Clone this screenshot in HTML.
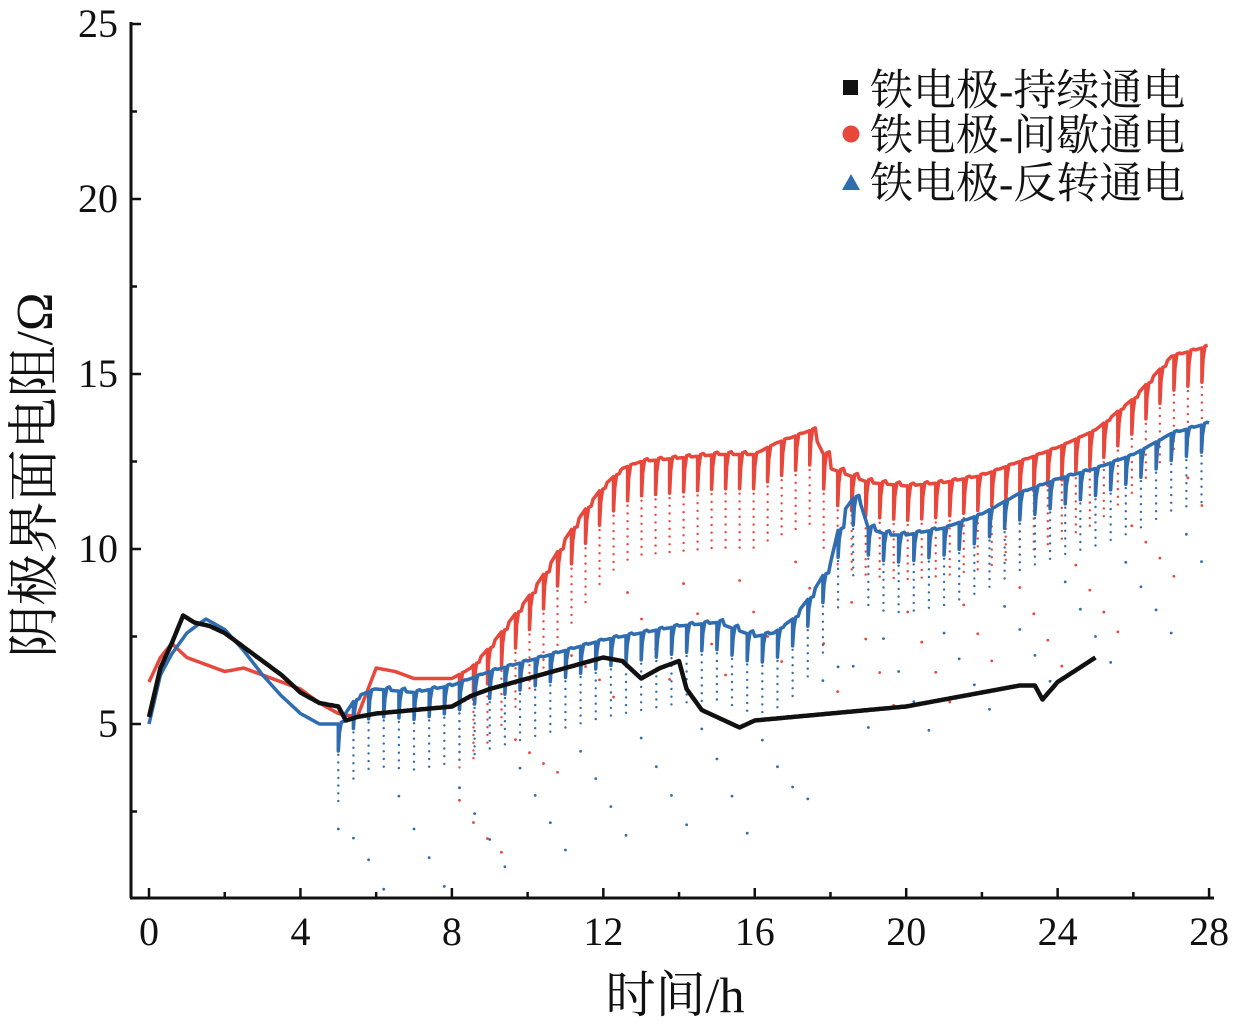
<!DOCTYPE html>
<html><head><meta charset="utf-8">
<style>
html,body{margin:0;padding:0;background:#fff;}
svg{display:block;}
text{font-family:"Liberation Serif","Noto Serif CJK SC",serif;fill:#111;}
</style></head>
<body>
<svg id="chart" width="1235" height="1028" viewBox="0 0 1235 1028" xmlns="http://www.w3.org/2000/svg">
<g id="axes"></g>
<g id="series"></g>
<g id="legend">
  <rect x="843" y="80" width="15" height="15" fill="#111"/>
  <text x="870" y="105" font-size="43">铁电极-持续通电</text>
  <circle cx="851" cy="134" r="8.5" fill="#e8473c"/>
  <text x="870" y="150" font-size="43">铁电极-间歇通电</text>
  <polygon points="842,190 851,174 860,190" fill="#2f6db0"/>
  <text x="870" y="198" font-size="43">铁电极-反转通电</text>
</g>
<text transform="translate(52,475) rotate(-90)" text-anchor="middle" font-size="52">阴极界面电阻/Ω</text>
<text x="675" y="1012" text-anchor="middle" font-size="50">时间/h</text>
</svg>
<script>
const xTicks = [0,4,8,12,16,20,24,28];
const yTicks = [5,10,15,20,25];
const blackT = [0,0.3,0.6,0.9,1.2,1.6,2,2.5,3,3.5,4,4.5,5,5.2,5.5,6,7,8,8.5,9,10,11,12,12.5,13,13.5,14,14.2,14.6,15,15.6,16,17,18,19,20,21,22,23,23.4,23.6,24,25];
const blackV = [5.2,6.6,7.3,8.1,7.9,7.8,7.6,7.2,6.8,6.4,5.9,5.6,5.5,5.1,5.2,5.3,5.4,5.5,5.8,6.0,6.3,6.6,6.9,6.8,6.3,6.6,6.8,6.0,5.4,5.2,4.9,5.1,5.2,5.3,5.4,5.5,5.7,5.9,6.1,6.1,5.7,6.2,6.9];
const redT = [0,0.3,0.6,1,1.5,2,2.5,3,4,4.5,5,5.5,6,6.5,7,8,8.5,9,9.5,10,10.5,11,11.5,12,12.5,13,14,15,16,16.5,17,17.5,18,18.5,19,20,21,22,23,24,25,26,27,28];
const redV = [6.2,6.9,7.3,6.9,6.7,6.5,6.6,6.4,6.0,5.6,5.3,5.2,6.6,6.5,6.3,6.3,6.6,7.2,7.9,8.6,9.4,10.3,11.1,11.8,12.3,12.5,12.6,12.7,12.7,13.0,13.2,13.4,12.3,12.1,11.9,11.8,11.9,12.1,12.5,12.9,13.4,14.3,15.5,15.8];
const blueT = [0,0.3,0.6,1,1.5,2,2.5,3,3.5,4,4.5,5,5.5,6,7,8,9,10,11,12,13,14,15,16,16.5,17,17.5,18,18.3,18.7,19,19.5,20,21,22,23,24,25,26,27,28];
const blueV = [5.0,6.4,7.0,7.6,8.0,7.7,7.1,6.4,5.8,5.3,5.0,5.0,5.8,6.0,5.9,6.1,6.5,6.8,7.1,7.4,7.6,7.8,7.9,7.5,7.6,8.0,8.7,9.6,11.0,11.6,10.6,10.4,10.4,10.6,11.0,11.6,12.0,12.3,12.7,13.3,13.6];
const redCycle = {start:8.2, period:0.37, drop:2.8};
const blueCycle = {start:5.0, period:0.4, drop:2.2};

const NS="http://www.w3.org/2000/svg";
const X0=149, XS=37.86, Y0=899, YS=35;
const sx=t=>X0+t*XS, sy=v=>Y0-v*YS;
const axes=document.getElementById('axes'), ser=document.getElementById('series');
function mk(tag,attrs,parent){const e=document.createElementNS(NS,tag);for(const k in attrs)e.setAttribute(k,attrs[k]);parent.appendChild(e);return e;}
function interp(T,V,t){if(t<=T[0])return V[0];for(let i=1;i<T.length;i++){if(t<=T[i]){const f=(t-T[i-1])/(T[i]-T[i-1]);return V[i-1]+f*(V[i]-V[i-1]);}}return V[V.length-1];}

let l=mk('line',{x1:131,y1:22,x2:131,y2:898,stroke:'#111','stroke-width':3},axes);

l=mk('line',{x1:130,y1:898,x2:1214,y2:898,stroke:'#111','stroke-width':3},axes);

for(let t=0;t<=28;t+=2){const major=t%4===0;const e=mk('line',{x1:sx(t),y1:898,x2:sx(t),y2:major?888:892,stroke:'#111','stroke-width':2.5},axes);
}
xTicks.forEach(t=>{const e=mk('text',{x:sx(t),y:945,'text-anchor':'middle','font-size':40},axes);e.textContent=t;
});
for(let v=2.5;v<=25;v+=2.5){const major=v%5===0;const e=mk('line',{x1:131,y1:sy(v),x2:major?141:137,y2:sy(v),stroke:'#111','stroke-width':2.5},axes);
}
yTicks.forEach(v=>{const e=mk('text',{x:118,y:sy(v)+13,'text-anchor':'end','font-size':40},axes);e.textContent=v;
});

function drawSeries(T,V,cyc,color,name){
  const g=mk('g',{},ser);
  
  
  const tEnd=T[T.length-1];
  let pts=[];
  let cycles=[];
  if(cyc){for(let t=cyc.start;t<tEnd;t+=cyc.period)cycles.push(t);}
  let ci=0;
  const step=0.05;
  for(let t=T[0];t<=tEnd+1e-9;t+=step){
    if(ci<cycles.length && t>=cycles[ci]){
      const c=cycles[ci];const env=interp(T,V,c);
      pts.push([sx(c),sy(env)]);
      pts.push([sx(c),sy(env-cyc.drop*0.35)]);
      pts.push([sx(c+0.03),sy(env-cyc.drop*0.12)]);
      pts.push([sx(c+0.08),sy(env+0.05)]);
      pts.push([sx(c+0.15),sy(env+0.08)]);
      for(let d=cyc.drop*0.4;d<=cyc.drop;d+=0.22){const e=mk('circle',{cx:sx(c),cy:sy(env-d),r:1.2,fill:color},g);
        }
      const k=ci%4;
      const e=mk('circle',{cx:sx(c),cy:sy(env-cyc.drop-0.8-k*0.9),r:1.4,fill:color},g);
      
      ci++;
      t=c+0.15;continue;
    }
    pts.push([sx(t),sy(interp(T,V,t))]);
  }
  const p=mk('polyline',{points:pts.map(p=>p[0].toFixed(1)+','+p[1].toFixed(1)).join(' '),fill:'none',stroke:color,'stroke-width':cyc?3.5:4.5,'stroke-linejoin':'round'},g);
  
  
}
drawSeries(redT,redV,redCycle,'#e8473c','series-intermittent');
drawSeries(blueT,blueV,blueCycle,'#2f6db0','series-reverse');
drawSeries(blackT,blackV,null,'#111','series-continuous');
</script>
</body></html>
